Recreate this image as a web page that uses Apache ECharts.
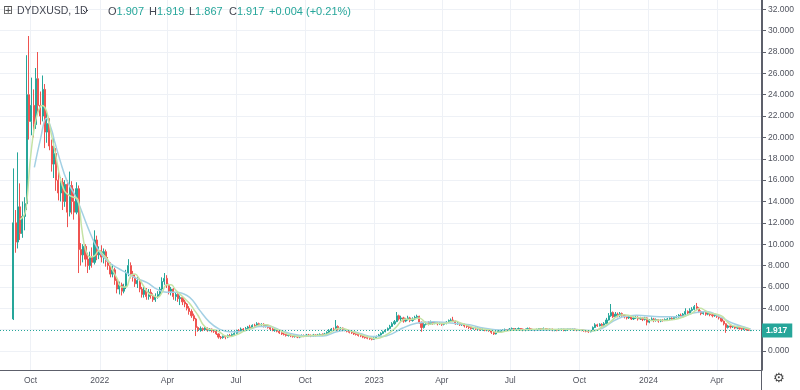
<!DOCTYPE html>
<html><head><meta charset="utf-8">
<script src="https://cdn.jsdelivr.net/npm/echarts@6/dist/echarts.min.js"></script>
<style>html,body{margin:0;padding:0;background:#fff}#c{width:800px;height:390px}</style>
</head><body><div id="c"></div>
<script>
// ---------- data ----------
const symbolName = 'DYDXUSD, 1D';
const startDate = '2021-09-08';   // first candle
const stepDays = 3;               // one candle per 3 days
// [open, close, low, high]
const candles = [
[3.0,12.0,2.9,17.1],[12.0,10.2,9.2,13.2],[10.2,13.5,9.6,18.6],[13.5,11.0,10.4,15.7],[11.0,12.6,10.6,14.0],[12.6,13.8,11.3,14.4],
[13.8,24.0,13.2,27.7],[24.0,21.5,19.8,29.5],[21.5,23.0,20.2,25.6],[23.0,21.2,20.0,24.5],[21.2,25.5,20.8,26.5],[25.5,23.0,22.4,28.0],
[23.0,22.0,21.2,24.3],[22.0,24.5,21.5,25.8],[24.5,20.5,19.0,25.0],[20.5,21.3,19.5,22.4],[21.3,19.2,18.8,21.8],[19.2,17.5,16.8,19.8],
[17.5,18.5,16.2,20.0],[18.5,16.0,15.0,19.0],[16.0,14.8,14.1,17.0],[14.8,15.8,14.0,16.3],[15.8,14.0,13.2,16.2],[14.0,15.6,13.5,16.0],
[15.6,13.0,11.6,16.0],[13.0,15.5,12.6,16.8],[15.5,14.0,12.8,15.9],[14.0,13.0,12.3,15.2],[13.0,15.2,12.8,15.8],[15.2,9.5,7.3,15.5],
[9.5,9.0,8.0,10.1],[9.0,9.8,8.3,10.0],[9.8,8.6,7.9,10.0],[8.6,8.0,7.3,9.2],[8.0,8.8,7.6,9.3],[8.8,8.3,7.8,9.7],
[8.3,10.4,8.1,11.3],[10.4,9.0,8.5,10.8],[9.0,9.4,8.6,9.8],[9.4,8.8,8.3,9.9],[8.8,9.3,8.2,9.6],[9.3,8.4,7.9,9.5],
[8.4,8.0,7.6,8.8],[8.0,7.2,6.9,8.3],[7.2,7.6,6.9,8.1],[7.6,6.6,6.2,7.8],[6.6,5.8,5.4,6.8],[5.8,6.2,5.3,6.5],
[6.2,5.6,5.2,6.4],[5.6,6.0,5.4,6.3],[6.0,7.3,5.8,7.6],[7.3,8.0,7.0,8.6],[8.0,7.2,6.8,8.3],[7.2,6.9,6.5,7.5],
[6.9,6.3,6.0,7.2],[6.3,6.6,5.9,7.0],[6.6,5.8,5.5,6.8],[5.8,5.3,5.0,6.0],[5.3,5.7,5.0,6.0],[5.7,5.1,4.8,5.9],
[5.1,5.5,4.8,5.8],[5.5,5.2,4.9,5.8],[5.2,4.8,4.6,5.4],[4.8,5.1,4.6,5.4],[5.1,5.3,4.9,5.6],[5.3,5.8,5.1,6.0],
[5.8,6.5,5.6,6.9],[6.5,6.8,6.2,7.3],[6.8,6.2,5.9,7.1],[6.2,5.6,5.3,6.3],[5.6,5.8,5.2,6.0],[5.8,5.1,4.8,5.9],
[5.1,5.3,4.7,5.5],[5.3,4.9,4.6,5.4],[4.9,5.0,4.3,5.2],[5.0,4.6,4.3,5.1],[4.6,4.4,4.1,4.8],[4.4,4.0,3.8,4.5],
[4.0,3.7,3.4,4.2],[3.7,3.3,3.1,3.9],[3.3,3.0,2.8,3.5],[3.0,2.2,1.4,3.1],[2.2,2.0,1.8,2.3],[2.0,2.1,1.8,2.3],
[2.1,2.0,1.85,2.2],[2.0,2.15,1.9,2.3],[2.15,1.95,1.8,2.2],[1.95,2.05,1.85,2.15],[2.05,1.9,1.75,2.1],[1.9,1.85,1.7,2.0],
[1.85,1.6,1.5,1.9],[1.6,1.3,1.15,1.65],[1.3,1.25,1.1,1.4],[1.25,1.35,1.15,1.45],[1.35,1.3,1.1,1.45],[1.3,1.45,1.2,1.55],
[1.45,1.4,1.3,1.6],[1.4,1.55,1.35,1.65],[1.55,1.65,1.45,1.75],[1.65,1.9,1.6,2.0],[1.9,1.85,1.75,2.05],[1.85,2.05,1.8,2.2],
[2.05,1.95,1.85,2.15],[1.95,2.1,1.9,2.25],[2.1,2.25,2.0,2.35],[2.25,2.2,2.1,2.45],[2.2,2.4,2.15,2.5],[2.4,2.35,2.2,2.55],
[2.35,2.55,2.3,2.7],[2.55,2.45,2.35,2.65],[2.45,2.5,2.3,2.6],[2.5,2.35,2.2,2.6],[2.35,2.4,2.2,2.5],[2.4,2.2,2.1,2.45],
[2.2,2.05,1.95,2.25],[2.05,1.95,1.85,2.15],[1.95,2.0,1.8,2.1],[2.0,1.85,1.75,2.05],[1.85,1.7,1.6,1.9],[1.7,1.6,1.5,1.75],
[1.6,1.55,1.45,1.7],[1.55,1.45,1.35,1.6],[1.45,1.5,1.35,1.6],[1.5,1.4,1.3,1.55],[1.4,1.35,1.25,1.5],[1.35,1.4,1.25,1.5],
[1.4,1.3,1.2,1.45],[1.3,1.35,1.2,1.45],[1.35,1.45,1.3,1.55],[1.45,1.4,1.3,1.55],[1.4,1.5,1.35,1.6],[1.5,1.45,1.35,1.6],
[1.45,1.4,1.3,1.55],[1.4,1.5,1.35,1.6],[1.5,1.45,1.35,1.55],[1.45,1.5,1.4,1.6],[1.5,1.55,1.4,1.65],[1.55,1.5,1.4,1.65],
[1.5,1.6,1.45,1.7],[1.6,1.75,1.55,1.85],[1.75,1.9,1.7,2.05],[1.9,2.05,1.85,2.15],[2.05,2.0,1.9,2.2],[2.0,2.3,1.95,2.9],
[2.3,2.05,1.9,2.4],[2.05,2.15,1.95,2.25],[2.15,1.95,1.85,2.2],[1.95,2.0,1.85,2.1],[2.0,1.85,1.75,2.05],[1.85,1.75,1.65,1.9],
[1.75,1.7,1.6,1.8],[1.7,1.6,1.5,1.75],[1.6,1.55,1.45,1.65],[1.55,1.45,1.35,1.6],[1.45,1.4,1.3,1.5],[1.4,1.3,1.2,1.45],
[1.3,1.25,1.15,1.35],[1.25,1.2,1.1,1.3],[1.2,1.15,1.05,1.25],[1.15,1.1,1.0,1.2],[1.1,1.2,1.05,1.3],[1.2,1.35,1.15,1.45],
[1.35,1.5,1.3,1.6],[1.5,1.65,1.45,1.75],[1.65,1.8,1.6,1.9],[1.8,1.95,1.75,2.05],[1.95,2.1,1.9,2.2],[2.1,2.3,2.05,2.45],
[2.3,2.55,2.25,2.7],[2.55,2.75,2.45,2.9],[2.75,3.3,2.7,3.65],[3.3,3.0,2.85,3.4],[3.0,3.1,2.8,3.3],[3.1,2.8,2.65,3.2],
[2.8,2.95,2.7,3.1],[2.95,3.1,2.85,3.3],[3.1,2.85,2.7,3.2],[2.85,3.0,2.75,3.15],[3.0,3.15,2.9,3.3],[3.15,3.25,3.0,3.4],
[3.25,2.7,2.55,3.3],[2.7,2.2,1.8,2.75],[2.2,2.5,2.1,2.6],[2.5,2.6,2.4,2.75],[2.6,2.55,2.4,2.8],[2.55,2.7,2.45,2.85],
[2.7,2.6,2.45,2.8],[2.6,2.65,2.5,2.75],[2.65,2.55,2.4,2.7],[2.55,2.6,2.45,2.7],[2.6,2.5,2.35,2.65],[2.5,2.6,2.4,2.7],
[2.6,2.7,2.5,2.8],[2.7,2.85,2.6,2.95],[2.85,2.9,2.75,3.05],[2.9,2.8,2.7,3.2],[2.8,2.55,2.45,2.85],[2.55,2.6,2.45,2.7],
[2.6,2.45,2.35,2.65],[2.45,2.5,2.35,2.6],[2.5,2.35,2.2,2.55],[2.35,2.3,2.15,2.45],[2.3,2.2,2.05,2.35],[2.2,2.1,2.0,2.25],
[2.1,2.15,2.0,2.25],[2.15,2.05,1.95,2.2],[2.05,2.1,1.95,2.2],[2.1,2.0,1.9,2.15],[2.0,2.05,1.9,2.15],[2.05,1.95,1.85,2.1],
[1.95,2.0,1.85,2.1],[2.0,1.9,1.8,2.05],[1.9,1.75,1.6,1.95],[1.75,1.6,1.5,1.8],[1.6,1.75,1.55,1.85],[1.75,1.85,1.7,1.95],
[1.85,1.9,1.8,2.0],[1.9,1.95,1.85,2.05],[1.95,2.0,1.85,2.1],[2.0,1.95,1.85,2.05],[1.95,2.05,1.9,2.15],[2.05,2.1,1.95,2.2],
[2.1,2.0,1.9,2.15],[2.0,2.05,1.9,2.15],[2.05,2.1,1.95,2.2],[2.1,2.05,1.95,2.15],[2.05,1.95,1.85,2.1],[1.95,2.0,1.85,2.1],
[2.0,2.1,1.95,2.2],[2.1,2.05,1.95,2.2],[2.05,2.0,1.9,2.1],[2.0,1.95,1.85,2.05],[1.95,2.0,1.9,2.1],[2.0,2.1,1.95,2.15],
[2.1,2.05,1.95,2.15],[2.05,2.1,2.0,2.2],[2.1,2.05,1.95,2.15],[2.05,2.0,1.9,2.1],[2.0,2.05,1.9,2.1],[2.05,1.95,1.85,2.1],
[1.95,2.0,1.85,2.05],[2.0,1.95,1.85,2.05],[1.95,2.0,1.9,2.1],[2.0,2.05,1.9,2.1],[2.05,1.95,1.85,2.1],[1.95,2.0,1.85,2.05],
[2.0,2.05,1.9,2.1],[2.05,2.0,1.9,2.1],[2.0,2.05,1.95,2.1],[2.05,2.0,1.9,2.1],[2.0,1.95,1.85,2.05],[1.95,2.0,1.9,2.05],
[2.0,1.95,1.85,2.05],[1.95,1.9,1.8,2.0],[1.9,1.85,1.75,1.95],[1.85,1.8,1.7,1.9],[1.8,1.9,1.75,1.95],[1.9,2.2,1.85,2.3],
[2.2,2.45,2.15,2.6],[2.45,2.35,2.25,2.55],[2.35,2.5,2.3,2.6],[2.5,2.4,2.3,2.6],[2.4,2.55,2.35,2.7],[2.55,2.9,2.5,3.1],
[2.9,3.3,2.85,3.55],[3.3,3.6,3.2,4.4],[3.6,3.2,3.1,3.7],[3.2,3.45,3.1,3.65],[3.45,3.3,3.15,3.6],[3.3,3.5,3.2,3.65],
[3.5,3.35,3.2,3.6],[3.35,3.2,3.05,3.45],[3.2,3.1,2.95,3.3],[3.1,3.2,3.0,3.35],[3.2,3.0,2.9,3.3],[3.0,3.1,2.9,3.25],
[3.1,3.15,3.0,3.3],[3.15,3.0,2.85,3.25],[3.0,3.1,2.9,3.2],[3.1,2.95,2.8,3.15],[2.95,3.1,2.85,3.2],[3.1,2.7,2.4,3.15],
[2.7,2.9,2.6,3.0],[2.9,3.0,2.8,3.15],[3.0,2.85,2.7,3.1],[2.85,2.95,2.75,3.05],[2.95,2.8,2.65,3.0],[2.8,2.9,2.7,3.0],
[2.9,2.85,2.75,3.0],[2.85,2.95,2.8,3.05],[2.95,3.0,2.85,3.1],[3.0,3.05,2.9,3.15],[3.05,3.0,2.9,3.2],[3.0,3.15,2.95,3.25],
[3.15,3.2,3.05,3.35],[3.2,3.35,3.1,3.45],[3.35,3.3,3.15,3.5],[3.3,3.45,3.2,3.55],[3.45,3.7,3.35,4.0],[3.7,3.55,3.4,3.8],
[3.55,3.8,3.45,4.0],[3.8,3.9,3.7,4.1],[3.9,4.15,3.8,4.3],[4.15,4.0,3.8,4.5],[4.0,3.7,3.55,4.1],[3.7,3.5,3.35,3.8],
[3.5,3.6,3.4,3.7],[3.6,3.45,3.3,3.65],[3.45,3.55,3.35,3.65],[3.55,3.4,3.25,3.6],[3.4,3.3,3.15,3.5],[3.3,3.4,3.2,3.5],
[3.4,3.25,3.1,3.45],[3.25,3.1,2.95,3.3],[3.1,2.8,2.7,3.15],[2.8,2.55,2.4,2.85],[2.55,2.2,1.7,2.6],[2.2,2.35,2.1,2.45],
[2.35,2.25,2.1,2.4],[2.25,2.3,2.15,2.4],[2.3,2.15,2.05,2.35],[2.15,2.2,2.05,2.3],[2.2,2.1,2.0,2.25],[2.1,2.05,1.95,2.15],
[2.05,2.1,1.95,2.15],[2.1,2.0,1.9,2.1],[2.0,1.95,1.88,2.05],[1.907,1.917,1.867,1.919]
];
// slow moving average (light blue)
const maSlow = [
['2021-10-06',17.2],['2021-10-14',19.8],['2021-10-22',21.8],['2021-10-29',20.7],['2021-11-02',19.6],['2021-11-09',17.9],
['2021-11-18',16.0],['2021-12-01',14.3],['2021-12-16',11.6],['2021-12-28',9.7],['2022-01-10',8.5],['2022-01-24',7.8],
['2022-02-06',7.3],['2022-02-19',6.8],['2022-03-05',6.4],['2022-03-18',5.8],['2022-03-31',5.5],['2022-04-13',5.5],
['2022-04-27',5.2],['2022-05-05',4.7],['2022-05-14',3.8],['2022-05-27',2.7],['2022-06-09',2.05],['2022-06-23',1.8],
['2022-07-06',1.8],['2022-07-20',2.05],['2022-08-02',2.3],['2022-08-15',2.3],['2022-08-29',1.95],['2022-09-11',1.65],
['2022-10-03',1.4],['2022-10-25',1.4],['2022-11-12',1.8],['2022-11-25',1.95],['2022-12-13',1.65],['2022-12-30',1.35],
['2023-01-12',1.35],['2023-01-26',1.65],['2023-02-08',2.15],['2023-02-26',2.6],['2023-03-20',2.75],['2023-04-16',2.6],
['2023-05-08',2.45],['2023-05-26',2.15],['2023-06-21',1.95],['2023-08-05',1.95],['2023-09-18',2.05],['2023-10-18',1.9],
['2023-11-01',2.15],['2023-11-14',2.75],['2023-11-28',3.2],['2023-12-16',3.35],['2024-01-16',3.2],['2024-02-12',3.2],
['2024-02-29',3.55],['2024-03-18',3.7],['2024-04-05',3.2],['2024-04-22',2.6],['2024-05-11',2.15],['2024-05-16',2.05]
];
// fast moving average (light green)
const maFast = [
['2021-09-17',12.3],['2021-09-24',13.0],['2021-09-30',17.5],['2021-10-05',20.5],['2021-10-10',22.2],['2021-10-16',23.0],
['2021-10-22',22.5],['2021-10-28',20.5],['2021-11-03',18.5],['2021-11-09',16.3],['2021-11-15',15.0],['2021-11-21',14.6],
['2021-11-27',14.4],['2021-12-03',14.2],['2021-12-08',11.5],['2021-12-13',9.5],['2021-12-19',8.8],['2021-12-25',8.9],
['2021-12-31',9.4],['2022-01-06',9.0],['2022-01-12',8.5],['2022-01-18',7.6],['2022-01-24',6.8],['2022-01-30',6.0],
['2022-02-05',6.0],['2022-02-11',7.0],['2022-02-17',7.2],['2022-02-23',6.7],['2022-03-01',6.0],['2022-03-07',5.4],
['2022-03-13',5.2],['2022-03-19',5.0],['2022-03-25',5.5],['2022-03-31',6.2],['2022-04-06',6.2],['2022-04-12',5.7],
['2022-04-18',5.3],['2022-04-24',4.9],['2022-04-30',4.5],['2022-05-06',3.9],['2022-05-12',3.3],['2022-05-18',2.5],
['2022-05-24',2.1],['2022-05-30',2.0],['2022-06-05',1.95],['2022-06-11',1.7],['2022-06-17',1.4],['2022-06-23',1.35],
['2022-06-29',1.45],['2022-07-05',1.6],['2022-07-11',1.85],['2022-07-17',2.0],['2022-07-23',2.15],['2022-07-29',2.35],
['2022-08-04',2.45],['2022-08-10',2.45],['2022-08-16',2.35],['2022-08-22',2.1],['2022-08-28',1.95],['2022-09-03',1.75],
['2022-09-09',1.55],['2022-09-15',1.45],['2022-09-21',1.38],['2022-09-27',1.35],['2022-10-03',1.4],['2022-10-09',1.45],
['2022-10-15',1.45],['2022-10-21',1.48],['2022-10-27',1.52],['2022-11-02',1.65],['2022-11-08',1.9],['2022-11-14',2.1],
['2022-11-20',2.1],['2022-11-26',2.0],['2022-12-02',1.85],['2022-12-08',1.7],['2022-12-14',1.55],['2022-12-20',1.4],
['2022-12-26',1.28],['2023-01-01',1.18],['2023-01-07',1.2],['2023-01-13',1.35],['2023-01-19',1.6],['2023-01-25',1.9],
['2023-01-31',2.3],['2023-02-06',2.8],['2023-02-12',3.0],['2023-02-18',2.95],['2023-02-24',3.0],['2023-03-02',3.1],
['2023-03-08',2.8],['2023-03-14',2.5],['2023-03-20',2.55],['2023-03-26',2.6],['2023-04-01',2.57],['2023-04-07',2.6],
['2023-04-13',2.75],['2023-04-19',2.8],['2023-04-25',2.65],['2023-05-01',2.5],['2023-05-07',2.35],['2023-05-13',2.2],
['2023-05-19',2.1],['2023-05-25',2.05],['2023-05-31',2.0],['2023-06-06',1.95],['2023-06-12',1.75],['2023-06-18',1.75],
['2023-06-24',1.85],['2023-06-30',1.92],['2023-07-15',1.97],['2023-08-01',2.03],['2023-08-15',2.05],['2023-09-01',2.02],
['2023-09-15',2.03],['2023-10-01',2.0],['2023-10-15',1.9],['2023-10-24',1.95],['2023-10-30',2.2],['2023-11-05',2.4],
['2023-11-11',2.7],['2023-11-17',3.1],['2023-11-23',3.35],['2023-11-29',3.4],['2023-12-05',3.35],['2023-12-11',3.2],
['2023-12-17',3.12],['2023-12-23',3.1],['2023-12-29',3.05],['2024-01-04',2.85],['2024-01-10',2.88],['2024-01-16',2.9],
['2024-01-22',2.85],['2024-01-28',2.87],['2024-02-03',2.95],['2024-02-09',3.02],['2024-02-15',3.15],['2024-02-21',3.35],
['2024-02-27',3.5],['2024-03-04',3.8],['2024-03-10',4.0],['2024-03-16',3.8],['2024-03-22',3.55],['2024-03-28',3.5],
['2024-04-03',3.4],['2024-04-09',3.2],['2024-04-15',2.7],['2024-04-21',2.4],['2024-04-27',2.3],['2024-05-03',2.25],
['2024-05-09',2.15],['2024-05-15',2.05]
];
const yTicks = [0,2,4,6,8,10,12,14,16,18,20,22,24,26,28,30,32];
const yLabelTicks = [0,4,6,8,10,12,14,16,18,20,22,24,26,28,30,32];
const xTicks = ['2021-10-01','2022-01-01','2022-04-01','2022-07-01','2022-10-01','2023-01-01','2023-04-01','2023-07-01','2023-10-01','2024-01-01','2024-04-01'];
const monthNames = ['Jan','Feb','Mar','Apr','May','Jun','Jul','Aug','Sep','Oct','Nov','Dec'];
const lastBar = {o:'1.907', h:'1.919', l:'1.867', c:'1.917', chg:'+0.004 (+0.21%)'};
const lastClose = 1.917;

// ---------- build ----------
const DAY = 86400000;
function utc(s){const p=s.split('-');return Date.UTC(+p[0],+p[1]-1,+p[2]);}
const t0 = utc(startDate);
const candleData = candles.map((c,i)=>[t0+i*stepDays*DAY,c[0],c[1],c[2],c[3]]);
const slowData = maSlow.map(p=>[utc(p[0]),p[1]]);
const fastData = maFast.map(p=>[utc(p[0]),p[1]]);
const xTickTs = xTicks.map(utc);

const UP='#26a69a', DOWN='#ef5350', GRID='#eef1f6', AX='#5d606b', TXT='#50535e';
const FONT='"Liberation Sans", Arial, sans-serif';

const chart = echarts.init(document.getElementById('c'), null, {renderer:'canvas'});
chart.setOption({
  animation:false,
  backgroundColor:'#ffffff',
  textStyle:{fontFamily:FONT},
  grid:{left:0, right:38, top:0, bottom:20, containLabel:false},
  xAxis:{
    type:'value', min:t0-17.7*DAY, max:t0+995.9*DAY, scale:true,
    axisLine:{show:true, onZero:false, lineStyle:{color:AX, width:1}},
    axisTick:{show:false, customValues:xTickTs},
    axisLabel:{customValues:xTickTs, fontSize:8.5, color:TXT, margin:6, fontFamily:FONT,
      formatter:function(v){const d=new Date(v);return d.getUTCMonth()===0?String(d.getUTCFullYear()):monthNames[d.getUTCMonth()];}},
    splitLine:{show:true, lineStyle:{color:GRID, width:1}}
  },
  yAxis:{
    type:'value', position:'right', min:-1.78, max:32.87,
    axisLine:{show:true, lineStyle:{color:AX, width:1}},
    axisTick:{show:true, length:4, customValues:yTicks, lineStyle:{color:AX}},
    axisLabel:{customValues:yLabelTicks, fontSize:8.5, color:TXT, margin:6, fontFamily:FONT,
      formatter:function(v){return Number(v).toFixed(3);}},
    splitLine:{show:true, lineStyle:{color:GRID, width:1}}
  },
  series:[
    {type:'candlestick', data:candleData, barWidth:1.6, clip:true,
     itemStyle:{color:UP, color0:DOWN, borderColor:UP, borderColor0:DOWN, borderWidth:1},
     markLine:{silent:true, symbol:['none','none'], animation:false,
       data:[{yAxis:lastClose}],
       lineStyle:{type:[1,2], color:UP, width:1},
       label:{show:true, position:'end', distance:0, formatter:lastBar.c,
         backgroundColor:UP, color:'#fff', fontWeight:'bold', fontSize:8.5, fontFamily:FONT, padding:[3,5,2,4]}}
    },
    {type:'line', data:slowData, smooth:0.4, showSymbol:false, z:3,
     lineStyle:{color:'#a3d0e4', width:1.5}},
    {type:'line', data:fastData, smooth:0.4, showSymbol:false, z:3,
     lineStyle:{color:'#c5e3a5', width:1.5}}
  ],
  graphic:[
    {type:'line', z:50, shape:{x1:0,y1:370.5,x2:762,y2:370.5}, style:{stroke:AX, lineWidth:1}},
    {type:'line', z:50, shape:{x1:761.5,y1:0,x2:761.5,y2:390}, style:{stroke:AX, lineWidth:1}},
    {type:'text', z:50, left:3, top:5, style:{text:'⊞', fontSize:12, fill:'#555', fontFamily:'DejaVu Sans'}},
    {type:'text', z:50, left:17, top:6, style:{text:symbolName, fontSize:10.5, fill:'#434651', fontFamily:FONT}},
    {type:'polyline', z:50, shape:{points:[[83,10],[85.5,12.5],[88,10]]}, style:{stroke:'#434651', lineWidth:1, fill:null}},
    {type:'text', z:50, left:108, top:6, style:{rich:{l:{fill:'#434651',fontSize:11,fontFamily:FONT},v:{fill:UP,fontSize:11,fontFamily:FONT}}, text:'{l|O}{v|'+lastBar.o+'}'}},
    {type:'text', z:50, left:149, top:6, style:{rich:{l:{fill:'#434651',fontSize:11,fontFamily:FONT},v:{fill:UP,fontSize:11,fontFamily:FONT}}, text:'{l|H}{v|'+lastBar.h+'}'}},
    {type:'text', z:50, left:189, top:6, style:{rich:{l:{fill:'#434651',fontSize:11,fontFamily:FONT},v:{fill:UP,fontSize:11,fontFamily:FONT}}, text:'{l|L}{v|'+lastBar.l+'}'}},
    {type:'text', z:50, left:229, top:6, style:{rich:{l:{fill:'#434651',fontSize:11,fontFamily:FONT},v:{fill:UP,fontSize:11,fontFamily:FONT}}, text:'{l|C}{v|'+lastBar.c+'}'}},
    {type:'text', z:50, left:269, top:6, style:{text:lastBar.chg, fill:UP, fontSize:11, fontFamily:FONT}},
    {type:'text', z:50, left:773, top:372, style:{text:'⚙', fontSize:13, fill:'#444', fontFamily:'DejaVu Sans'}}
  ]
});
</script></body></html>
